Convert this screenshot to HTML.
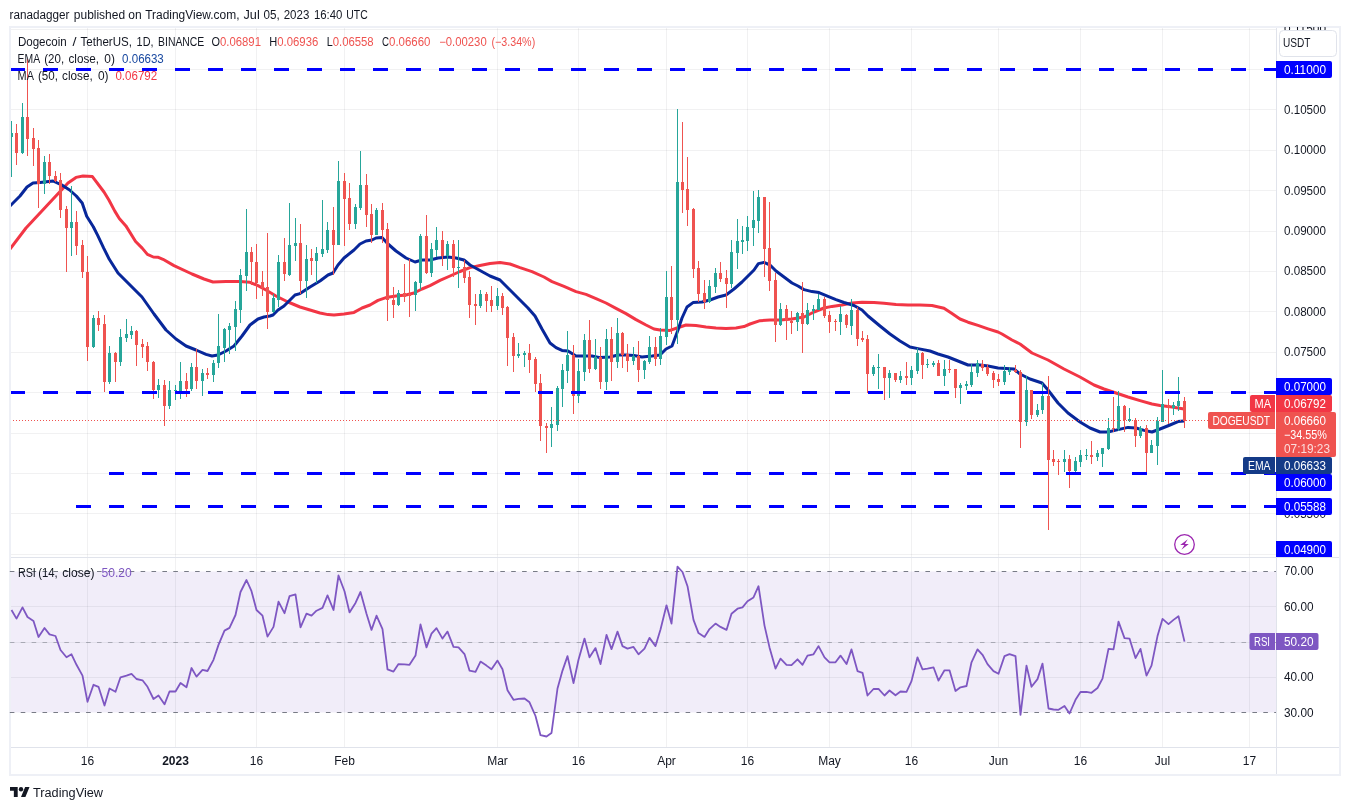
<!DOCTYPE html>
<html lang="en"><head><meta charset="utf-8"><title>DOGEUSDT chart</title>
<style>html,body{margin:0;padding:0;background:#fff}svg{display:block}</style></head>
<body>
<svg width="1350" height="810" viewBox="0 0 1350 810" font-family="Liberation Sans, sans-serif" font-size="12">
<defs><clipPath id="cm"><rect x="11" y="28" width="1265.5" height="529"/></clipPath><clipPath id="cax"><rect x="1277" y="27" width="63" height="530"/></clipPath></defs>
<rect width="1350" height="810" fill="#fff"/>
<rect x="11" y="571.5" width="1265.5" height="141" fill="#f1edf9"/>
<path d="M87.5 28V747 M175.5 28V747 M256.5 28V747 M344.5 28V747 M497.5 28V747 M578.5 28V747 M666.5 28V747 M747.5 28V747 M829.5 28V747 M911.5 28V747 M998.5 28V747 M1080.5 28V747 M1162.5 28V747 M1249.5 28V747 M11 29.5H1276 M11 69.5H1276 M11 109.5H1276 M11 150.5H1276 M11 190.5H1276 M11 231.5H1276 M11 271.5H1276 M11 311.5H1276 M11 352.5H1276 M11 392.5H1276 M11 433.5H1276 M11 473.5H1276 M11 513.5H1276 M11 554.5H1276 M11 606.5H1276 M11 642.5H1276 M11 677.5H1276" stroke="#2a2e39" stroke-opacity="0.065" stroke-width="1" fill="none"/>
<rect x="10" y="27" width="1330" height="748" stroke="#eef0f6" stroke-width="2" fill="none"/>
<path d="M11 557.5H1339M11 747.5H1339M1276.5 28V774" stroke="#e0e3eb" stroke-width="1" fill="none"/>
<path d="M9.8 571.5H1276M9.8 712.5H1276" stroke="#787b86" stroke-width="1" stroke-dasharray="4.6 6.3" fill="none"/>
<path d="M9.8 642.5H1276" stroke="#787b86" stroke-opacity="0.55" stroke-width="1" stroke-dasharray="4.6 6.3" fill="none"/>
<g clip-path="url(#cm)">
<polyline points="10.0,249.0 26.0,228.0 40.0,213.0 54.0,198.0 68.0,183.0 76.0,177.4 83.0,176.0 92.4,176.6 104.0,192.0 108.9,200.0 114.8,211.1 119.3,218.5 125.9,225.9 135.6,241.5 142.2,248.1 147.4,254.4 153.3,257.0 157.8,257.2 163.0,259.3 174.0,265.6 192.0,274.0 204.0,279.0 213.0,282.0 226.0,281.6 240.0,281.5 250.0,282.3 258.0,285.6 266.0,290.0 276.0,296.0 288.0,302.0 300.0,307.0 310.0,310.0 320.0,313.0 328.0,314.6 334.0,315.0 344.0,314.0 354.0,312.4 362.0,308.0 370.0,305.0 378.0,300.4 386.0,297.6 396.0,296.0 406.0,295.0 414.0,293.0 422.0,289.0 430.0,285.6 440.0,280.4 450.0,276.0 460.0,271.5 470.0,267.6 480.0,265.5 490.0,263.5 500.0,262.5 510.0,264.0 520.0,267.6 532.0,271.6 544.0,277.0 552.0,281.6 564.0,286.4 576.0,291.6 586.0,294.4 596.0,298.6 606.0,303.0 616.0,308.4 626.0,313.6 636.0,319.6 646.0,325.0 654.0,329.0 660.0,330.0 670.0,330.4 677.0,328.0 686.0,325.0 696.0,325.6 706.0,327.0 716.0,328.0 726.0,328.6 736.0,328.0 744.0,326.6 750.0,324.0 760.0,320.7 770.0,320.0 780.0,320.0 792.0,319.0 804.0,317.0 814.0,312.0 824.0,308.0 832.0,306.4 842.0,305.0 852.0,303.0 862.0,302.2 874.0,302.5 884.0,303.3 896.0,304.6 908.0,305.0 920.0,305.0 932.0,305.5 944.0,308.2 952.0,313.5 960.0,319.0 968.0,322.2 978.0,325.4 988.0,328.8 998.0,332.0 1002.0,334.0 1012.0,340.0 1020.0,344.0 1032.0,353.0 1048.0,360.0 1064.0,369.0 1080.0,377.0 1094.0,385.0 1104.0,389.0 1116.0,393.0 1128.0,397.0 1140.0,400.6 1152.0,404.0 1160.0,405.4 1172.0,407.0 1184.0,409.0" fill="none" stroke="#f23645" stroke-width="3" stroke-linejoin="round"/>
<polyline points="10.0,206.0 20.0,196.0 27.0,187.0 33.0,183.0 40.0,182.6 53.0,181.0 61.5,184.8 69.6,190.0 76.3,196.0 82.2,203.0 86.7,216.3 93.3,226.7 97.8,235.6 103.7,248.1 109.3,259.3 118.0,273.0 130.0,285.0 142.0,297.0 154.0,314.0 166.0,330.0 176.0,339.0 186.0,346.0 196.0,350.0 206.0,354.4 212.0,356.0 218.0,355.0 226.0,351.0 234.0,346.0 242.0,336.0 250.0,325.0 258.0,319.0 264.0,317.0 270.0,316.0 273.0,315.0 278.0,310.0 284.0,306.0 290.0,300.0 295.0,295.0 300.0,293.6 310.0,287.0 320.0,281.0 328.0,275.0 333.0,273.0 338.0,265.0 344.0,258.0 354.0,250.0 360.0,244.0 366.0,241.0 372.0,240.0 376.0,238.0 382.0,237.4 388.0,244.0 396.0,251.0 406.0,258.0 415.0,262.0 422.0,260.0 430.0,260.0 438.0,258.0 448.0,257.0 456.0,258.0 464.0,260.0 470.0,265.0 480.0,270.5 490.0,276.0 500.0,280.0 508.0,288.0 518.0,298.0 528.0,308.0 535.0,316.0 542.0,329.0 550.0,343.0 556.0,347.6 562.0,350.4 568.0,351.0 576.0,356.0 584.0,356.0 592.0,356.0 600.0,357.6 610.0,357.0 618.0,355.0 626.0,355.0 634.0,355.6 642.0,357.0 652.0,356.0 660.0,355.0 666.0,349.0 672.0,346.0 678.0,330.0 682.0,318.0 687.0,307.0 693.0,302.6 702.0,302.0 710.0,300.0 718.0,297.0 726.0,295.0 734.0,289.0 742.0,282.0 748.0,276.0 754.0,270.0 758.4,263.6 764.0,262.4 770.0,265.0 776.0,271.0 784.0,277.0 792.0,283.0 798.0,286.0 804.0,289.6 812.0,291.6 819.0,292.6 828.0,296.4 836.0,299.6 844.0,302.5 854.0,305.5 862.0,310.0 868.0,316.0 880.0,326.0 890.0,334.0 900.0,341.0 910.0,347.0 918.0,348.6 930.0,351.0 938.0,354.0 948.0,357.0 958.0,361.0 968.0,365.0 980.0,365.0 988.0,366.0 998.0,368.0 1014.0,369.0 1020.0,374.0 1030.0,379.0 1042.0,383.0 1048.0,390.0 1058.0,403.0 1068.0,413.0 1080.0,422.0 1090.0,428.0 1100.0,432.0 1108.0,432.0 1118.0,429.6 1128.0,427.4 1136.0,428.0 1144.0,430.4 1152.0,432.0 1160.0,429.0 1170.0,425.0 1178.0,421.6 1184.0,421.0" fill="none" stroke="#08279a" stroke-width="3" stroke-linejoin="round"/>
<path d="M11.5 121V177M22.5 103V154M44.5 156V194M71.5 186V256M93.5 315V348M109.5 346V384M120.5 329V366M126.5 319V342M131.5 326V339M158.5 379V398M169.5 381V409M175.5 385V400M180.5 362V399M191.5 363V391M202.5 369V396M213.5 360V382M218.5 314V368M224.5 328V362M229.5 323V354M235.5 301V351M240.5 269V323M246.5 209V291M273.5 294V313M278.5 255V307M289.5 203V276M295.5 218V261M306.5 245V298M316.5 247V283M322.5 200V257M327.5 222V253M338.5 161V245M355.5 204V229M360.5 151V210M376.5 208V235M398.5 290V306M415.5 281V311M420.5 234V290M431.5 243V277M436.5 227V257M447.5 241V270M458.5 240V288M480.5 290V308M497.5 288V310M518.5 343V358M524.5 351V367M551.5 407V447M557.5 386V431M562.5 364V407M567.5 331V383M578.5 359V403M584.5 334V381M595.5 339V370M606.5 329V390M617.5 318V368M633.5 347V365M644.5 360V379M649.5 336V364M660.5 328V365M666.5 271V345M677.5 109V344M709.5 280V303M715.5 268V293M731.5 240V288M737.5 219V269M742.5 226V254M747.5 216V251M753.5 191V246M758.5 190V233M780.5 303V326M797.5 312V331M807.5 303V325M813.5 305V320M818.5 294V310M840.5 306V335M851.5 299V335M873.5 365V376M878.5 354V389M889.5 370V398M900.5 371V383M911.5 366V385M917.5 348V374M927.5 359V368M933.5 361V367M944.5 360V386M960.5 383V404M966.5 381V390M971.5 364V387M977.5 360V377M1004.5 365V385M1009.5 367V375M1026.5 376V426M1037.5 404V417M1042.5 383V414M1064.5 450V472M1075.5 457V475M1080.5 450V467M1086.5 449V460M1097.5 450V461M1102.5 448V467M1108.5 418V450M1118.5 391V431M1129.5 408V422M1140.5 426V438M1151.5 440V453M1157.5 417V465M1162.5 370V422M1173.5 402V415M1178.5 377V411" stroke="#26a69a" stroke-width="1" fill="none"/>
<path d="M16.5 124V165M27.5 59V156M33.5 128V166M38.5 140V208M49.5 154V184M55.5 171V182M60.5 173V218M66.5 206V272M76.5 211V255M82.5 240V278M87.5 256V361M98.5 311V331M104.5 315V392M115.5 352V382M136.5 330V366M142.5 339V358M147.5 342V371M153.5 361V399M164.5 380V426M186.5 373V397M196.5 349V389M207.5 368V379M251.5 247V285M256.5 244V299M262.5 271V296M267.5 233V329M284.5 238V281M300.5 224V294M311.5 249V275M333.5 207V275M344.5 173V246M349.5 183V230M366.5 174V227M371.5 204V243M382.5 203V243M387.5 223V321M393.5 287V318M404.5 264V302M409.5 259V317M426.5 215V274M442.5 231V266M453.5 240V277M464.5 260V283M469.5 271V318M475.5 294V325M486.5 292V312M491.5 286V312M502.5 293V315M507.5 306V366M513.5 333V372M529.5 344V373M535.5 357V392M540.5 374V441M546.5 423V453M573.5 345V414M589.5 320V373M600.5 347V389M611.5 327V381M622.5 332V368M627.5 344V372M638.5 341V382M655.5 337V366M671.5 266V334M682.5 122V213M687.5 157V226M693.5 208V278M698.5 261V302M704.5 280V309M720.5 262V282M726.5 270V308M764.5 197V277M769.5 202V291M775.5 273V342M786.5 305V340M791.5 311V334M802.5 282V353M824.5 297V318M829.5 311V333M835.5 319V331M846.5 314V328M857.5 307V346M862.5 331V342M867.5 335V393M884.5 367V400M895.5 373V382M906.5 362V385M922.5 352V379M938.5 360V376M949.5 360V373M955.5 369V398M982.5 360V371M987.5 364V376M993.5 371V388M998.5 374V386M1015.5 365V373M1020.5 370V448M1031.5 390V419M1048.5 376V530M1053.5 450V466M1058.5 459V475M1069.5 455V488M1091.5 441V464M1113.5 397V432M1124.5 405V432M1135.5 418V447M1146.5 425V473M1168.5 399V424M1184.5 397V428" stroke="#ef5350" stroke-width="1" fill="none"/>
<path d="M10.0 133h3V137h-3zM21.0 117h3V153h-3zM43.0 162h3V184h-3zM70.0 222h3V228h-3zM92.0 318h3V347h-3zM108.0 353h3V382h-3zM119.0 337h3V362h-3zM125.0 334h3V338h-3zM130.0 331h3V335h-3zM157.0 385h3V390h-3zM168.0 390h3V406h-3zM174.0 390h3V391h-3zM179.0 381h3V391h-3zM190.0 367h3V389h-3zM201.0 373h3V381h-3zM212.0 363h3V375h-3zM217.0 346h3V363h-3zM223.0 329h3V348h-3zM228.0 326h3V330h-3zM234.0 309h3V327h-3zM239.0 275h3V310h-3zM245.0 252h3V276h-3zM272.0 298h3V312h-3zM277.0 262h3V300h-3zM288.0 245h3V275h-3zM294.0 243h3V246h-3zM305.0 259h3V281h-3zM315.0 253h3V261h-3zM321.0 249h3V254h-3zM326.0 230h3V250h-3zM337.0 181h3V245h-3zM354.0 207h3V224h-3zM359.0 185h3V208h-3zM375.0 210h3V235h-3zM397.0 293h3V305h-3zM414.0 282h3V295h-3zM419.0 236h3V283h-3zM430.0 249h3V273h-3zM435.0 240h3V250h-3zM446.0 244h3V256h-3zM457.0 267h3V268h-3zM479.0 294h3V306h-3zM496.0 296h3V306h-3zM517.0 354h3V356h-3zM523.0 353h3V355h-3zM550.0 424h3V428h-3zM556.0 388h3V425h-3zM561.0 370h3V389h-3zM566.0 355h3V371h-3zM577.0 371h3V396h-3zM583.0 340h3V372h-3zM594.0 357h3V369h-3zM605.0 339h3V382h-3zM616.0 333h3V362h-3zM632.0 356h3V361h-3zM643.0 361h3V370h-3zM648.0 347h3V362h-3zM659.0 336h3V359h-3zM665.0 297h3V337h-3zM676.0 182h3V320h-3zM708.0 286h3V302h-3zM714.0 273h3V287h-3zM730.0 252h3V284h-3zM736.0 241h3V253h-3zM741.0 240h3V242h-3zM746.0 227h3V241h-3zM752.0 220h3V228h-3zM757.0 197h3V221h-3zM779.0 309h3V325h-3zM796.0 313h3V322h-3zM806.0 310h3V324h-3zM812.0 309h3V311h-3zM817.0 299h3V310h-3zM839.0 314h3V322h-3zM850.0 310h3V326h-3zM872.0 367h3V374h-3zM877.0 367h3V368h-3zM888.0 373h3V378h-3zM899.0 376h3V380h-3zM910.0 370h3V378h-3zM916.0 353h3V371h-3zM926.0 364h3V365h-3zM932.0 363h3V365h-3zM943.0 369h3V376h-3zM959.0 385h3V388h-3zM965.0 384h3V386h-3zM970.0 372h3V385h-3zM976.0 363h3V373h-3zM1003.0 371h3V382h-3zM1008.0 370h3V372h-3zM1025.0 390h3V422h-3zM1036.0 410h3V415h-3zM1041.0 396h3V410h-3zM1063.0 459h3V462h-3zM1074.0 461h3V471h-3zM1079.0 455h3V462h-3zM1085.0 455h3V456h-3zM1096.0 453h3V457h-3zM1101.0 448h3V454h-3zM1107.0 428h3V449h-3zM1117.0 406h3V429h-3zM1128.0 419h3V421h-3zM1139.0 428h3V436h-3zM1150.0 445h3V453h-3zM1156.0 421h3V446h-3zM1161.0 404h3V422h-3zM1172.0 405h3V408h-3zM1177.0 401h3V406h-3z" fill="#26a69a"/>
<path d="M15.0 133h3V153h-3zM26.0 117h3V139h-3zM32.0 138h3V149h-3zM37.0 148h3V184h-3zM48.0 162h3V176h-3zM54.0 176h3V181h-3zM59.0 180h3V210h-3zM65.0 209h3V228h-3zM75.0 222h3V246h-3zM81.0 245h3V272h-3zM86.0 272h3V347h-3zM97.0 318h3V325h-3zM103.0 324h3V382h-3zM114.0 353h3V362h-3zM135.0 331h3V345h-3zM141.0 344h3V347h-3zM146.0 346h3V362h-3zM152.0 362h3V390h-3zM163.0 385h3V406h-3zM185.0 381h3V389h-3zM195.0 367h3V381h-3zM206.0 373h3V375h-3zM250.0 252h3V262h-3zM255.0 262h3V283h-3zM261.0 282h3V288h-3zM266.0 287h3V312h-3zM283.0 262h3V274h-3zM299.0 243h3V281h-3zM310.0 258h3V261h-3zM332.0 230h3V245h-3zM343.0 181h3V199h-3zM348.0 198h3V224h-3zM365.0 185h3V215h-3zM370.0 214h3V235h-3zM381.0 210h3V230h-3zM386.0 229h3V300h-3zM392.0 300h3V305h-3zM403.0 293h3V297h-3zM408.0 294h3V296h-3zM425.0 236h3V273h-3zM441.0 240h3V256h-3zM452.0 244h3V268h-3zM463.0 267h3V278h-3zM468.0 277h3V305h-3zM474.0 304h3V306h-3zM485.0 294h3V301h-3zM490.0 300h3V306h-3zM501.0 296h3V308h-3zM506.0 307h3V338h-3zM512.0 337h3V356h-3zM528.0 353h3V360h-3zM534.0 359h3V384h-3zM539.0 383h3V426h-3zM545.0 426h3V428h-3zM572.0 355h3V396h-3zM588.0 340h3V369h-3zM599.0 357h3V382h-3zM610.0 339h3V362h-3zM621.0 333h3V355h-3zM626.0 354h3V361h-3zM637.0 356h3V370h-3zM654.0 347h3V359h-3zM670.0 297h3V320h-3zM681.0 182h3V190h-3zM686.0 189h3V210h-3zM692.0 209h3V269h-3zM697.0 268h3V294h-3zM703.0 293h3V302h-3zM719.0 273h3V279h-3zM725.0 278h3V284h-3zM763.0 197h3V249h-3zM768.0 248h3V281h-3zM774.0 280h3V325h-3zM785.0 309h3V321h-3zM790.0 321h3V323h-3zM801.0 313h3V324h-3zM823.0 299h3V316h-3zM828.0 315h3V322h-3zM834.0 321h3V322h-3zM845.0 315h3V325h-3zM856.0 310h3V339h-3zM861.0 338h3V340h-3zM866.0 339h3V374h-3zM883.0 367h3V378h-3zM894.0 373h3V380h-3zM905.0 376h3V378h-3zM921.0 353h3V365h-3zM937.0 363h3V376h-3zM948.0 369h3V370h-3zM954.0 369h3V388h-3zM981.0 364h3V368h-3zM986.0 367h3V374h-3zM992.0 373h3V380h-3zM997.0 379h3V382h-3zM1014.0 370h3V372h-3zM1019.0 372h3V422h-3zM1030.0 390h3V415h-3zM1047.0 396h3V460h-3zM1052.0 459h3V462h-3zM1057.0 461h3V462h-3zM1068.0 459h3V471h-3zM1090.0 455h3V457h-3zM1112.0 428h3V429h-3zM1123.0 406h3V420h-3zM1134.0 420h3V436h-3zM1145.0 428h3V453h-3zM1167.0 405h3V408h-3zM1183.0 401h3V421h-3z" fill="#ef5350"/>
<path d="M10 69.5H1276M10 392.5H1276" stroke="#0000ff" stroke-width="3" stroke-dasharray="15 18" fill="none"/>
<path d="M109 473.5H1276M76 506.5H1276" stroke="#0000ff" stroke-width="3" stroke-dasharray="15 18" fill="none"/>
<path d="M10 420.5H1208" stroke="#ef5350" stroke-width="1" stroke-dasharray="1 2" fill="none"/>
</g>
<polyline points="11.5,610.0 16.5,618.6 22.5,607.4 27.5,617.0 33.5,621.0 38.5,637.0 44.5,628.0 49.5,634.4 55.5,636.0 60.5,650.0 66.5,657.3 71.5,654.3 76.5,664.8 82.5,675.6 87.5,701.8 93.5,684.8 98.5,686.8 104.5,705.5 109.5,688.5 115.5,691.8 120.5,677.3 126.5,675.6 131.5,673.8 136.5,679.0 142.5,680.3 147.5,686.8 153.5,699.0 158.5,695.5 164.5,704.3 169.5,691.5 175.5,691.5 180.5,683.0 186.5,687.3 191.5,668.0 196.5,676.6 202.5,669.8 207.5,671.0 213.5,659.8 218.5,644.9 224.5,630.6 229.5,627.9 235.5,615.0 240.5,592.0 246.5,580.0 251.5,591.2 256.5,610.0 262.5,615.7 267.5,636.6 273.5,626.9 278.5,601.7 284.5,613.2 289.5,596.2 295.5,594.4 300.5,627.4 306.5,613.7 311.5,615.7 316.5,610.7 322.5,607.9 327.5,595.4 333.5,610.0 338.5,575.5 344.5,591.2 349.5,612.4 355.5,602.9 360.5,592.0 366.5,613.7 371.5,629.9 376.5,615.7 382.5,629.1 387.5,669.3 393.5,671.6 398.5,664.1 404.5,664.3 409.5,664.8 415.5,655.6 420.5,624.4 426.5,647.4 431.5,633.6 436.5,628.1 442.5,638.6 447.5,631.6 453.5,646.9 458.5,647.4 464.5,654.1 469.5,670.6 475.5,671.8 480.5,661.6 486.5,665.6 491.5,669.3 497.5,660.6 502.5,669.3 507.5,690.3 513.5,699.8 518.5,698.8 524.5,698.5 529.5,702.3 535.5,716.0 540.5,735.2 546.5,736.5 551.5,733.0 557.5,688.5 562.5,670.6 567.5,656.1 573.5,683.0 578.5,659.8 584.5,638.6 589.5,657.3 595.5,648.1 600.5,664.1 606.5,634.9 611.5,649.1 617.5,631.6 622.5,646.1 627.5,648.6 633.5,646.9 638.5,654.3 644.5,648.6 649.5,637.9 655.5,646.1 660.5,629.5 666.5,605.3 671.5,623.6 677.5,566.7 682.5,572.0 687.5,586.2 693.5,619.9 698.5,633.1 704.5,636.9 709.5,629.1 715.5,623.6 720.5,626.9 726.5,629.9 731.5,613.7 737.5,608.7 742.5,607.4 747.5,601.2 753.5,597.4 758.5,586.2 764.5,625.6 769.5,647.4 775.5,668.6 780.5,658.6 786.5,664.8 791.5,665.1 797.5,659.3 802.5,664.8 807.5,655.6 813.5,654.3 818.5,646.1 824.5,657.3 829.5,662.3 835.5,662.3 840.5,655.6 846.5,664.1 851.5,649.4 857.5,671.1 862.5,672.8 867.5,695.5 873.5,689.0 878.5,688.8 884.5,695.5 889.5,690.5 895.5,695.3 900.5,691.5 906.5,691.8 911.5,681.1 917.5,657.3 922.5,669.3 927.5,668.6 933.5,667.3 938.5,680.6 944.5,670.3 949.5,670.3 955.5,691.0 960.5,687.3 966.5,686.0 971.5,662.3 977.5,649.4 982.5,654.8 987.5,664.1 993.5,671.1 998.5,673.8 1004.5,656.1 1009.5,654.1 1015.5,656.1 1020.5,714.8 1026.5,665.6 1031.5,686.8 1037.5,679.1 1042.5,663.6 1048.5,708.5 1053.5,709.5 1058.5,709.8 1064.5,706.0 1069.5,713.5 1075.5,699.8 1080.5,692.0 1086.5,691.8 1091.5,692.8 1097.5,688.0 1102.5,678.6 1108.5,648.9 1113.5,649.4 1118.5,621.6 1124.5,638.1 1129.5,638.6 1135.5,658.1 1140.5,648.9 1146.5,675.6 1151.5,665.6 1157.5,636.1 1162.5,618.9 1168.5,624.1 1173.5,619.9 1178.5,616.2 1184.5,641.6" fill="none" stroke="#7e57c2" stroke-width="1.8" stroke-linejoin="round"/>
<g transform="translate(1184.5 544.5)"><circle r="9.8" fill="#fff" stroke="#9c27b0" stroke-width="1.3"/><path d="M3.3 -5.3L-4.3 0.5H-0.1L-3.1 5.3L4.3 -0.5H0.4z" fill="#9c27b0"/></g>
<g clip-path="url(#cax)">
<text x="1284" y="33" fill="#131722" textLength="42" lengthAdjust="spacingAndGlyphs" >0.11500</text>
<text x="1284" y="114" fill="#131722" textLength="42" lengthAdjust="spacingAndGlyphs" >0.10500</text>
<text x="1284" y="154" fill="#131722" textLength="42" lengthAdjust="spacingAndGlyphs" >0.10000</text>
<text x="1284" y="195" fill="#131722" textLength="42" lengthAdjust="spacingAndGlyphs" >0.09500</text>
<text x="1284" y="235" fill="#131722" textLength="42" lengthAdjust="spacingAndGlyphs" >0.09000</text>
<text x="1284" y="275" fill="#131722" textLength="42" lengthAdjust="spacingAndGlyphs" >0.08500</text>
<text x="1284" y="316" fill="#131722" textLength="42" lengthAdjust="spacingAndGlyphs" >0.08000</text>
<text x="1284" y="356" fill="#131722" textLength="42" lengthAdjust="spacingAndGlyphs" >0.07500</text>
<text x="1284" y="518" fill="#131722" textLength="42" lengthAdjust="spacingAndGlyphs" >0.05500</text>
</g>
<rect x="1279.5" y="30.5" width="57" height="26" rx="4" fill="#fff" stroke="#e0e3eb" stroke-width="1"/>
<text x="1283" y="47" fill="#131722" textLength="27.5" lengthAdjust="spacingAndGlyphs" >USDT</text>
<path d="M1276 61H1330a2 2 0 0 1 2 2V76a2 2 0 0 1 -2 2H1276z" fill="#0000ff"/>
<text x="1284" y="74" fill="#fff" textLength="42" lengthAdjust="spacingAndGlyphs" >0.11000</text>
<path d="M1276 378H1330a2 2 0 0 1 2 2V393a2 2 0 0 1 -2 2H1276z" fill="#0000ff"/>
<text x="1284" y="391" fill="#fff" textLength="42" lengthAdjust="spacingAndGlyphs" >0.07000</text>
<path d="M1276 474H1330a2 2 0 0 1 2 2V489a2 2 0 0 1 -2 2H1276z" fill="#0000ff"/>
<text x="1284" y="487" fill="#fff" textLength="42" lengthAdjust="spacingAndGlyphs" >0.06000</text>
<path d="M1276 498H1330a2 2 0 0 1 2 2V513a2 2 0 0 1 -2 2H1276z" fill="#0000ff"/>
<text x="1284" y="511" fill="#fff" textLength="42" lengthAdjust="spacingAndGlyphs" >0.05588</text>
<path d="M1276 541H1330a2 2 0 0 1 2 2V557H1276z" fill="#0000ff"/>
<text x="1284" y="554" fill="#fff" textLength="42" lengthAdjust="spacingAndGlyphs" >0.04900</text>
<path d="M1276 395H1330a2 2 0 0 1 2 2V410a2 2 0 0 1 -2 2H1276z" fill="#f23645"/>
<path d="M1275 395H1252a2 2 0 0 0 -2 2V410a2 2 0 0 0 2 2H1275z" fill="#f23645"/>
<text x="1284" y="408" fill="#fff" textLength="42" lengthAdjust="spacingAndGlyphs" >0.06792</text>
<text x="1254.5" y="408" fill="#fff" textLength="16.5" lengthAdjust="spacingAndGlyphs" >MA</text>
<path d="M1276 412H1334a2 2 0 0 1 2 2V455a2 2 0 0 1 -2 2H1276z" fill="#ef5350"/>
<path d="M1275 412H1210a2 2 0 0 0 -2 2V427a2 2 0 0 0 2 2H1275z" fill="#ef5350"/>
<text x="1212.5" y="425" fill="#fff" textLength="57.5" lengthAdjust="spacingAndGlyphs" >DOGEUSDT</text>
<text x="1284" y="425" fill="#fff" textLength="42" lengthAdjust="spacingAndGlyphs" >0.06660</text>
<text x="1284" y="439" fill="#fff" textLength="43" lengthAdjust="spacingAndGlyphs" >−34.55%</text>
<text x="1284" y="453" fill="#fff" textLength="46" lengthAdjust="spacingAndGlyphs" fill-opacity="0.8">07:19:23</text>
<path d="M1276 457H1330a2 2 0 0 1 2 2V472a2 2 0 0 1 -2 2H1276z" fill="#143a87"/>
<path d="M1275 457H1245a2 2 0 0 0 -2 2V472a2 2 0 0 0 2 2H1275z" fill="#143a87"/>
<text x="1284" y="470" fill="#fff" textLength="42" lengthAdjust="spacingAndGlyphs" >0.06633</text>
<text x="1248" y="470" fill="#fff" textLength="22.5" lengthAdjust="spacingAndGlyphs" >EMA</text>
<text x="1284" y="575" fill="#131722" textLength="29.5" lengthAdjust="spacingAndGlyphs" >70.00</text>
<text x="1284" y="611" fill="#131722" textLength="29.5" lengthAdjust="spacingAndGlyphs" >60.00</text>
<text x="1284" y="681" fill="#131722" textLength="29.5" lengthAdjust="spacingAndGlyphs" >40.00</text>
<text x="1284" y="717" fill="#131722" textLength="29.5" lengthAdjust="spacingAndGlyphs" >30.00</text>
<path d="M1276 633H1316.5a2 2 0 0 1 2 2V648a2 2 0 0 1 -2 2H1276z" fill="#7e57c2"/>
<path d="M1275 633H1251.5a2 2 0 0 0 -2 2V648a2 2 0 0 0 2 2H1275z" fill="#7e57c2"/>
<text x="1284" y="646" fill="#fff" textLength="29.5" lengthAdjust="spacingAndGlyphs" >50.20</text>
<text x="1254" y="646" fill="#fff" textLength="16" lengthAdjust="spacingAndGlyphs" >RSI</text>
<text x="87.5" y="765" fill="#131722" text-anchor="middle" >16</text>
<text x="175.5" y="765" fill="#131722" text-anchor="middle" font-weight="bold" >2023</text>
<text x="256.5" y="765" fill="#131722" text-anchor="middle" >16</text>
<text x="344.5" y="765" fill="#131722" text-anchor="middle" >Feb</text>
<text x="497.5" y="765" fill="#131722" text-anchor="middle" >Mar</text>
<text x="578.5" y="765" fill="#131722" text-anchor="middle" >16</text>
<text x="666.5" y="765" fill="#131722" text-anchor="middle" >Apr</text>
<text x="747.5" y="765" fill="#131722" text-anchor="middle" >16</text>
<text x="829.5" y="765" fill="#131722" text-anchor="middle" >May</text>
<text x="911.5" y="765" fill="#131722" text-anchor="middle" >16</text>
<text x="998.5" y="765" fill="#131722" text-anchor="middle" >Jun</text>
<text x="1080.5" y="765" fill="#131722" text-anchor="middle" >16</text>
<text x="1162.5" y="765" fill="#131722" text-anchor="middle" >Jul</text>
<text x="1249.5" y="765" fill="#131722" text-anchor="middle" >17</text>
<text x="9.6" y="19" fill="#131722" textLength="59.9" lengthAdjust="spacingAndGlyphs" >ranadagger</text>
<text x="73.8" y="19" fill="#131722" textLength="51.3" lengthAdjust="spacingAndGlyphs" >published</text>
<text x="128.3" y="19" fill="#131722" textLength="13.4" lengthAdjust="spacingAndGlyphs" >on</text>
<text x="145.2" y="19" fill="#131722" textLength="94.3" lengthAdjust="spacingAndGlyphs" >TradingView.com,</text>
<text x="243.5" y="19" fill="#131722" textLength="16.2" lengthAdjust="spacingAndGlyphs" >Jul</text>
<text x="263.5" y="19" fill="#131722" textLength="16.2" lengthAdjust="spacingAndGlyphs" >05,</text>
<text x="283.7" y="19" fill="#131722" textLength="25.6" lengthAdjust="spacingAndGlyphs" >2023</text>
<text x="313.9" y="19" fill="#131722" textLength="28.5" lengthAdjust="spacingAndGlyphs" >16:40</text>
<text x="346.3" y="19" fill="#131722" textLength="21.4" lengthAdjust="spacingAndGlyphs" >UTC</text>
<text x="17.9" y="46" fill="#131722" textLength="48.9" lengthAdjust="spacingAndGlyphs" >Dogecoin</text>
<text x="72.6" y="46" fill="#131722" textLength="4" lengthAdjust="spacingAndGlyphs" >/</text>
<text x="80.6" y="46" fill="#131722" textLength="51.4" lengthAdjust="spacingAndGlyphs" >TetherUS,</text>
<text x="136.6" y="46" fill="#131722" textLength="16.9" lengthAdjust="spacingAndGlyphs" >1D,</text>
<text x="158.1" y="46" fill="#131722" textLength="46.2" lengthAdjust="spacingAndGlyphs" >BINANCE</text>
<text x="211.5" y="46" fill="#131722" textLength="8.5" lengthAdjust="spacingAndGlyphs" >O</text>
<text x="220" y="46" fill="#ef5350" textLength="41" lengthAdjust="spacingAndGlyphs" >0.06891</text>
<text x="269.3" y="46" fill="#131722" textLength="8" lengthAdjust="spacingAndGlyphs" >H</text>
<text x="277.3" y="46" fill="#ef5350" textLength="41" lengthAdjust="spacingAndGlyphs" >0.06936</text>
<text x="326.7" y="46" fill="#131722" textLength="6" lengthAdjust="spacingAndGlyphs" >L</text>
<text x="332.7" y="46" fill="#ef5350" textLength="41" lengthAdjust="spacingAndGlyphs" >0.06558</text>
<text x="381.9" y="46" fill="#131722" textLength="7" lengthAdjust="spacingAndGlyphs" >C</text>
<text x="389" y="46" fill="#ef5350" textLength="41.5" lengthAdjust="spacingAndGlyphs" >0.06660</text>
<text x="439.2" y="46" fill="#ef5350" textLength="47.5" lengthAdjust="spacingAndGlyphs" >−0.00230</text>
<text x="491.5" y="46" fill="#ef5350" textLength="43.7" lengthAdjust="spacingAndGlyphs" >(−3.34%)</text>
<text x="17.6" y="63" fill="#131722" textLength="22.5" lengthAdjust="spacingAndGlyphs" >EMA</text>
<text x="44.3" y="63" fill="#131722" textLength="19.8" lengthAdjust="spacingAndGlyphs" >(20,</text>
<text x="68.5" y="63" fill="#131722" textLength="30.6" lengthAdjust="spacingAndGlyphs" >close,</text>
<text x="104.3" y="63" fill="#131722" textLength="10.6" lengthAdjust="spacingAndGlyphs" >0)</text>
<text x="122.1" y="63" fill="#1848a0" textLength="41.7" lengthAdjust="spacingAndGlyphs" >0.06633</text>
<text x="17.6" y="80" fill="#131722" textLength="16.3" lengthAdjust="spacingAndGlyphs" >MA</text>
<text x="37.9" y="80" fill="#131722" textLength="20.0" lengthAdjust="spacingAndGlyphs" >(50,</text>
<text x="62.1" y="80" fill="#131722" textLength="30.6" lengthAdjust="spacingAndGlyphs" >close,</text>
<text x="97.9" y="80" fill="#131722" textLength="10.6" lengthAdjust="spacingAndGlyphs" >0)</text>
<text x="115.4" y="80" fill="#f23645" textLength="41.8" lengthAdjust="spacingAndGlyphs" >0.06792</text>
<text x="17.9" y="577" fill="#131722" textLength="17.9" lengthAdjust="spacingAndGlyphs" >RSI</text>
<text x="38.2" y="577" fill="#131722" textLength="19.6" lengthAdjust="spacingAndGlyphs" >(14,</text>
<text x="62.2" y="577" fill="#131722" textLength="32.3" lengthAdjust="spacingAndGlyphs" >close)</text>
<text x="101.5" y="577" fill="#7e57c2" textLength="30.3" lengthAdjust="spacingAndGlyphs" >50.20</text>
<g transform="translate(10 784.8) scale(0.55)" fill="#131722"><path d="M14 22H7V11H0V4h14v18zM28 22h-8l7.5-18h8L28 22z"/><circle cx="20" cy="8" r="4"/></g>
<text x="33" y="796.7" fill="#131722" font-size="12.5" textLength="70" lengthAdjust="spacingAndGlyphs" >TradingView</text>
</svg>
</body></html>
